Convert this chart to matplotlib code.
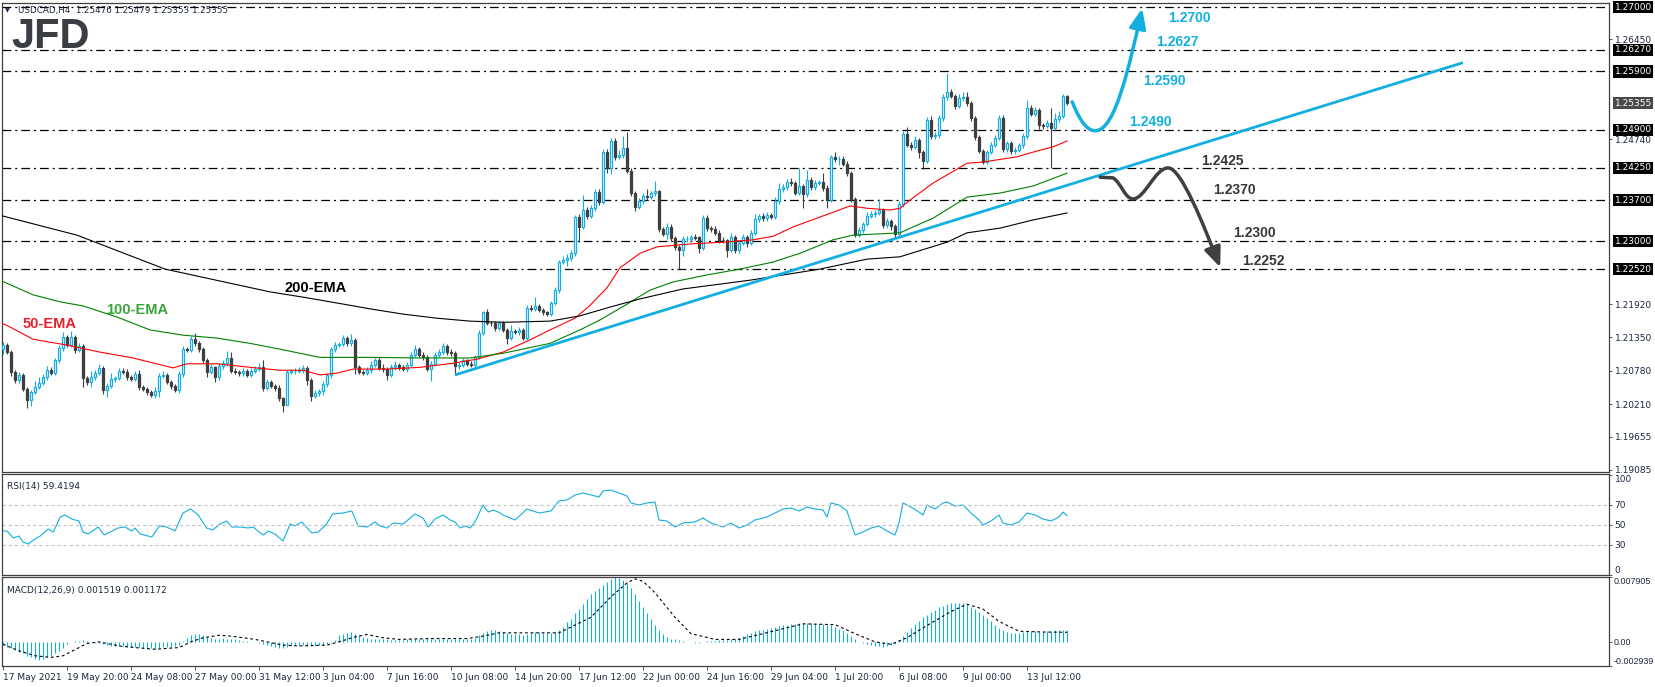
import numpy as np
import matplotlib
matplotlib.use('Agg')
import matplotlib.pyplot as plt
import matplotlib.transforms as mtransforms
from matplotlib.path import Path
from matplotlib.patches import FancyArrowPatch

# ---- price data (H4 bars, index 0 = 17 May 2021 00:00) ----
first_open = 1.2115
closes = [
    1.2122, 1.2110, 1.2076, 1.2062, 1.2071, 1.2047, 1.2028, 1.2042, 1.2050, 1.2057, 1.2067, 1.2079, 1.2074, 1.2096, 1.2117, 1.2136, 1.2122, 1.2136, 1.2114, 1.2120,
    1.2066, 1.2059, 1.2067, 1.2074, 1.2083, 1.2045, 1.2052, 1.2064, 1.2066, 1.2078, 1.2076, 1.2067, 1.2064, 1.2072, 1.2050, 1.2047, 1.2042, 1.2037, 1.2043, 1.2069,
    1.2071, 1.2059, 1.2052, 1.2045, 1.2072, 1.2115, 1.2114, 1.2132, 1.2125, 1.2115, 1.2096, 1.2076, 1.2084, 1.2067, 1.2086, 1.2091, 1.2100, 1.2078, 1.2076, 1.2074,
    1.2078, 1.2071, 1.2078, 1.2081, 1.2084, 1.2049, 1.2059, 1.2052, 1.2049, 1.2031, 1.2019, 1.2076, 1.2077, 1.2078, 1.2079, 1.2083, 1.2062, 1.2035, 1.2040, 1.2043,
    1.2055, 1.2071, 1.2115, 1.2122, 1.2124, 1.2134, 1.2125, 1.2131, 1.2084, 1.2076, 1.2075, 1.2079, 1.2088, 1.2096, 1.2083, 1.2081, 1.2071, 1.2084, 1.2088, 1.2084,
    1.2081, 1.2088, 1.2105, 1.2115, 1.2105, 1.2102, 1.2081, 1.2090, 1.2105, 1.2110, 1.2120, 1.2110, 1.2108, 1.2086, 1.2088, 1.2096, 1.2090, 1.2088, 1.2102, 1.2143,
    1.2178, 1.2160, 1.2159, 1.2151, 1.2160, 1.2148, 1.2134, 1.2146, 1.2145, 1.2148, 1.2134, 1.2185, 1.2184, 1.2189, 1.2182, 1.2178, 1.2175, 1.2194, 1.2216, 1.2264,
    1.2267, 1.2271, 1.2279, 1.2341, 1.2324, 1.2353, 1.2343, 1.2356, 1.2384, 1.2367, 1.2452, 1.2425, 1.2471, 1.2444, 1.2447, 1.2459, 1.2420, 1.2382, 1.2358, 1.2368,
    1.2377, 1.2375, 1.2382, 1.2385, 1.2320, 1.2312, 1.2324, 1.2305, 1.2290, 1.2285, 1.2303, 1.2304, 1.2307, 1.2306, 1.2288, 1.2339, 1.2322, 1.2320, 1.2314, 1.2302,
    1.2301, 1.2285, 1.2307, 1.2285, 1.2297, 1.2307, 1.2297, 1.2314, 1.2337, 1.2343, 1.2339, 1.2344, 1.2341, 1.2368, 1.2389, 1.2392, 1.2401, 1.2399, 1.2382, 1.2394,
    1.2380, 1.2404, 1.2392, 1.2399, 1.2401, 1.2391, 1.2370, 1.2444, 1.2440, 1.2441, 1.2432, 1.2416, 1.2372, 1.2310, 1.2319, 1.2329, 1.2343, 1.2346, 1.2348, 1.2353,
    1.2327, 1.2334, 1.2326, 1.2312, 1.2363, 1.2483, 1.2464, 1.2461, 1.2473, 1.2452, 1.2437, 1.2507, 1.2479, 1.2481, 1.2510, 1.2546, 1.2555, 1.2548, 1.2531, 1.2544,
    1.2546, 1.2536, 1.2510, 1.2478, 1.2454, 1.2435, 1.2452, 1.2464, 1.2476, 1.2510, 1.2457, 1.2467, 1.2454, 1.2456, 1.2464, 1.2479, 1.2527, 1.2517, 1.2524, 1.2498,
    1.2497, 1.2502, 1.2493, 1.2509, 1.2514, 1.2548, 1.25355,
]
# upper / lower shadows in pips
hi_wick = [
    5, 3, 4, 3, 5, 3, 3, 4, 10, 10, 6, 8, 6, 4, 5, 8, 4, 10, 4, 6,
    4, 3, 10, 5, 6, 3, 5, 10, 4, 5, 5, 5, 4, 5, 8, 3, 4, 3, 8, 5,
    6, 4, 3, 4, 5, 5, 4, 6, 11, 4, 3, 4, 6, 3, 5, 6, 12, 10, 4, 4,
    5, 3, 4, 5, 8, 12, 5, 4, 3, 4, 3, 3, 4, 4, 6, 5, 4, 3, 5, 4,
    5, 4, 3, 5, 4, 6, 4, 10, 3, 4, 3, 5, 6, 4, 5, 6, 3, 5, 6, 4,
    4, 5, 6, 8, 4, 5, 3, 4, 5, 5, 5, 4, 6, 4, 5, 4, 3, 4, 3, 5,
    3, 5, 4, 5, 4, 4, 3, 10, 4, 5, 3, 6, 5, 15, 4, 4, 3, 4, 5, 4,
    8, 6, 5, 3, 5, 25, 6, 5, 5, 5, 5, 6, 6, 5, 8, 20, 27, 4, 4, 6,
    5, 12, 4, 17, 3, 4, 6, 5, 3, 3, 5, 4, 4, 5, 3, 5, 6, 4, 5, 4,
    5, 3, 6, 3, 4, 5, 4, 5, 10, 4, 5, 5, 4, 8, 10, 5, 5, 6, 4, 30,
    4, 17, 5, 5, 4, 15, 4, 3, 8, 5, 4, 4, 3, 4, 5, 4, 6, 5, 5, 19,
    4, 5, 4, 3, 5, 5, 12, 5, 6, 4, 4, 5, 6, 5, 5, 5, 32, 5, 4, 8,
    8, 8, 4, 3, 4, 3, 4, 5, 5, 5, 5, 4, 4, 5, 4, 5, 14, 5, 5, 4,
    4, 5, 25, 10, 8, 3, 2,
]
lo_wick = [
    8, 4, 6, 4, 4, 4, 14, 10, 4, 3, 4, 4, 3, 3, 4, 5, 4, 3, 5, 4,
    15, 5, 8, 4, 3, 6, 12, 4, 5, 4, 3, 5, 4, 4, 5, 4, 5, 4, 6, 10,
    4, 4, 5, 4, 5, 4, 4, 4, 5, 4, 5, 8, 4, 8, 4, 5, 4, 4, 4, 5,
    4, 4, 3, 4, 4, 5, 4, 4, 5, 5, 12, 0, 4, 4, 4, 4, 8, 8, 4, 5,
    6, 4, 5, 4, 4, 4, 5, 5, 12, 4, 4, 4, 5, 3, 4, 5, 8, 4, 4, 5,
    4, 5, 4, 4, 4, 5, 4, 20, 4, 4, 4, 5, 4, 15, 5, 4, 4, 4, 4, 3,
    4, 4, 4, 5, 4, 4, 10, 4, 4, 5, 4, 4, 4, 4, 4, 5, 4, 4, 4, 5,
    4, 10, 5, 4, 25, 4, 5, 4, 4, 5, 4, 8, 10, 5, 4, 5, 4, 5, 6, 4,
    4, 5, 4, 5, 5, 4, 8, 5, 5, 33, 10, 4, 4, 5, 8, 4, 5, 4, 4, 5,
    4, 12, 4, 5, 5, 4, 8, 4, 4, 5, 4, 5, 4, 4, 4, 5, 4, 5, 4, 4,
    24, 4, 5, 4, 4, 5, 14, 3, 5, 10, 4, 4, 5, 4, 4, 5, 4, 4, 5, 4,
    5, 4, 8, 7, 3, 4, 4, 5, 4, 10, 14, 4, 5, 4, 4, 4, 5, 4, 5, 4,
    5, 5, 4, 5, 4, 3, 4, 4, 4, 4, 5, 4, 6, 5, 4, 5, 4, 4, 4, 6,
    5, 4, 68, 4, 5, 4, 3,
]

# moving averages read at sample bars
ema50_bar = [-0.75, 1.75, 7.5, 16, 24.25, 32.5, 42.5, 46, 53.5, 61.75, 69.25, 75, 79.25, 83.5, 87.5, 96, 104.25,
             112.5, 118.5, 125, 131.75, 136.75, 143, 146.75, 151, 154.25, 159.25, 163.5, 171.75, 180, 187.5,
             192.5, 197.5, 204.25, 207.5, 211.75, 216, 221.75, 224.25, 226.75, 232.5, 236.75, 241, 245,
             253.5, 257.5, 262.5, 266]
ema50_val = [1.2161, 1.2153, 1.2132, 1.2122, 1.2110, 1.2100, 1.2083, 1.2090, 1.2090, 1.2084, 1.2079, 1.2079,
             1.2071, 1.2074, 1.2081, 1.2081, 1.2084, 1.2091, 1.2098, 1.2110, 1.2131, 1.2148, 1.2168, 1.2190,
             1.2220, 1.2254, 1.2279, 1.2290, 1.2295, 1.2298, 1.2302, 1.2308, 1.2324, 1.2341, 1.2349, 1.2360,
             1.2356, 1.2353, 1.2356, 1.2370, 1.2399, 1.2416, 1.2433, 1.2435, 1.2444, 1.2452, 1.2461, 1.2471]
ema100_bar = [-0.75, 7.5, 14.25, 20, 28.5, 36.75, 45, 53.5, 61.75, 69.25, 79.25, 91.75, 104.25, 116.75, 125,
              136.75, 144.25, 149.25, 155.5, 161.75, 167.5, 176, 184.25, 192.5, 199.25, 207.5, 212.5, 224.25,
              228.5, 232.5, 241, 249.25, 257.5, 266]
ema100_val = [1.2233, 1.2208, 1.2196, 1.2189, 1.2170, 1.2148, 1.2139, 1.2134, 1.2125, 1.2115, 1.2101, 1.2101,
              1.2100, 1.2100, 1.2108, 1.2125, 1.2148, 1.2165, 1.2190, 1.2216, 1.2230, 1.2242, 1.2252, 1.2264,
              1.2279, 1.2302, 1.2310, 1.2314, 1.2327, 1.2339, 1.2375, 1.2382, 1.2394, 1.2416]
ema200_bar = [-0.75, 18.5, 40.5, 66.75, 75, 83.5, 91.75, 100, 108.5, 116.75, 125, 136.75, 144.25, 151.75,
              159.25, 170, 186.75, 204.25, 216, 224.25, 236, 241, 249.25, 257.5, 266]
ema200_val = [1.2344, 1.2310, 1.2252, 1.2213, 1.2204, 1.2194, 1.2184, 1.2175, 1.2168, 1.2163, 1.2161, 1.2163,
              1.2172, 1.2187, 1.2201, 1.2218, 1.2233, 1.2252, 1.2269, 1.2273, 1.2298, 1.2314, 1.2322, 1.2336,
              1.2348]

# support / resistance levels
levels = [1.2700, 1.2627, 1.2590, 1.2490, 1.2425, 1.2370, 1.2300, 1.2252]
level_tags = ['1.27000', '1.26270', '1.25900', '1.24900', '1.24250', '1.23700', '1.23000', '1.22520']
bull_tags = ['1.2700', '1.2627', '1.2590', '1.2490']
bear_tags = ['1.2425', '1.2370', '1.2300', '1.2252']
last_price = 1.25355
price_ticks = [1.26450, 1.24740, 1.21920, 1.21350, 1.20780, 1.20210, 1.19655, 1.19085]

trend_bar = [113, 365]
trend_val = [1.2071, 1.2605]

# RSI(14) read at sample bars
rsi_bar = [0, 1, 2.6, 4, 5, 6.3, 7.6, 9.3, 11.3, 12.6, 14.3, 15.5, 17.2, 19, 20, 21.3, 23.8, 25.3, 26.8, 28.8,
           30.5, 32.2, 33, 34.3, 37.2, 39.1, 40.9, 43, 45, 46.9, 48.8, 50.9, 52.4, 54.3, 55.9, 57.2, 59.3, 61.3,
           62.6, 63.4, 65.1, 66.3, 68, 70, 71.8, 73, 74.7, 77.2, 78.8, 80.9, 82.4, 85, 87.2, 88.8, 91, 93, 94.3,
           96, 97.6, 100, 103, 105, 106.3, 108, 110, 111.8, 113, 114.3, 115.5, 116.8, 118, 120, 121.3, 122.6,
           124.3, 125, 128, 131, 134, 137, 139, 141, 143, 145, 147, 149, 150, 152, 154, 156, 157, 159, 161, 163,
           164, 166, 168, 170, 173, 175, 177, 180, 182, 184, 186, 188, 191, 193, 195, 197, 199, 201, 203, 205,
           206, 207, 209, 211, 212, 213, 215, 217, 219, 221, 223, 224, 225, 227, 229, 230, 231, 233, 235, 236,
           238, 240, 242, 244, 245, 247, 249, 250, 252, 254, 256, 258, 260, 262, 264, 265, 266]
rsi_val = [44, 44, 37, 39, 33, 31, 35, 39, 46, 43, 58, 60, 56, 54, 43, 41, 48, 40, 43, 47,
           48, 44, 47, 41, 38, 49, 48, 44, 62, 66, 60, 47, 45, 51, 54, 48, 48, 47,
           48, 45, 40, 44, 41, 34, 51, 49, 53, 42, 43, 51, 61, 62, 64, 49, 48, 53, 49,
           47, 52, 51, 61, 57, 48, 56, 60, 55, 53, 47, 49, 47, 53, 70, 63, 65,
           62, 60, 55, 66, 62, 64, 74, 75, 80, 82, 80, 78, 84, 85, 82, 79, 72, 70, 72, 73,
           55, 54, 48, 52, 53, 57, 52, 48, 52, 47, 50, 55, 58, 62, 66, 67, 64, 68, 66, 65,
           58, 72, 70, 64, 52, 40, 43, 47, 49, 44, 40, 52, 72, 68, 63, 60, 70, 66, 72, 73,
           69, 70, 62, 55, 50, 54, 60, 52, 50, 53, 62, 60, 56, 54, 58, 63, 59.4]

# MACD(12,26,9) histogram, in units of 1e-4, one value per bar
macd_hist = [
    -4, -6, -8, -10, -12, -14, -17, -19, -21, -22, -21, -19, -17, -14, -11, -7,
    -3, 0, 1, 1, 2, 1, 0, -1, -1,
    -3, -4, -5, -5, -5, -5, -6, -6, -6, -6, -7, -7, -8, -9, -8, -6, -6, -6, -5, -4,
    1, 5, 8, 9, 9, 8,
    6, 5, 4, 4, 5, 4, 3, 3,
    2, 1, 1, 0, 0, -1,
    -3, -4, -5, -6, -7, -8,
    -6, -5, -4, -4, -4, -5, -5, -5, -4, -4, -3, -1, 2,
    8, 10, 11, 12, 10,
    8, 6, 5, 4, 4, 4, 3, 3, 2, 2, 2, 2, 3, 3, 4, 4, 4, 3, 3, 3, 4, 4, 4, 4, 3, 3, 3, 3, 4, 5,
    8, 11, 13, 14, 14, 13,
    12, 11, 10, 10, 9, 8, 10, 11, 12, 12, 11, 11, 11, 12,
    14, 18, 24, 28, 35, 40, 46, 52, 58, 62, 66, 70, 73, 77, 79, 78, 76, 72, 66, 58, 50, 42, 35, 28, 21, 15, 9,
    6, 4, 3, 2, 1, 0, 0, -1, -1, 0, 1, 1, 1, 2, 2, 2, 3, 4,
    5, 7, 9, 11, 13, 14, 15, 16, 17, 18, 19, 20, 21, 22, 22, 23, 23, 23, 23, 22, 22, 22, 21, 20, 18, 16, 14,
    11, 7, 3, 0, -2, -3, -4, -5, -5, -6, -5, -4, -3,
    2, 7, 12, 17, 22, 26, 30, 33, 36, 39, 42, 44, 46, 47, 48, 48, 47, 46, 43, 40, 36, 33,
    29, 25, 21, 17, 14, 12, 11, 11, 11, 12, 13, 13, 13, 12, 12, 13, 13, 14, 14, 15, 15,
]
signal_bar = [0, 4, 8, 12, 15, 19, 21, 24, 29, 33, 38, 44, 47, 50, 54, 57, 63, 66, 70, 74, 81, 84, 88, 91, 95,
              99, 107, 116, 120, 124, 131, 139, 147, 152, 156, 158, 160, 163, 168, 172, 178, 184, 190, 195,
              200, 208, 213, 218, 222, 226, 231, 237, 241, 245, 249, 254, 260, 266]
signal_val = [-3, -11, -17, -19, -17, -7, -2, 0, -5, -7, -9, -7, 0, 5, 8, 7, 3, 0, -4, -5, -4, 0, 6, 9, 5,
              3, 4, 4, 7, 11, 11, 11, 30, 55, 72, 77, 74, 60, 30, 10, 3, 3, 10, 16,
              22, 21, 10, 0, -3, 5, 20, 37, 46, 40, 25, 13, 12, 11.7]

date_ticks = ['17 May 2021', '19 May 20:00', '24 May 08:00', '27 May 00:00', '31 May 12:00', '3 Jun 04:00',
              '7 Jun 16:00', '10 Jun 08:00', '14 Jun 20:00', '17 Jun 12:00', '22 Jun 00:00', '24 Jun 16:00',
              '29 Jun 04:00', '1 Jul 20:00', '6 Jul 08:00', '9 Jul 00:00', '13 Jul 12:00']

CYAN = '#12afe0'
DARK = '#3f3f3f'
TXT = '#1c2740'
W, H = 1655, 687

fig = plt.figure(figsize=(W / 100, H / 100), dpi=100)


def box(l, t, r, b):
    return [l / W, 1 - b / H, (r - l) / W, (b - t) / H]


ax = fig.add_axes(box(2, 3, 1609, 472))
ax_rsi = fig.add_axes(box(2, 474, 1609, 575), sharex=ax)
ax_macd = fig.add_axes(box(2, 577, 1609, 666), sharex=ax)

for a in (ax, ax_rsi, ax_macd):
    for s in a.spines.values():
        s.set_color('#404040')
        s.set_linewidth(0.9)
    a.yaxis.tick_right()
    a.tick_params(axis='y', length=2.5, width=0.6, colors='#404040', labelsize=6.5, pad=1.5,
                  labelcolor=TXT)
    a.tick_params(axis='x', bottom=False, labelbottom=False)

# ---- candles ----
c = np.array(closes)
n = len(c)
x = np.arange(n)
o = np.concatenate([[first_open], c[:-1]])
hi = np.maximum(o, c) + np.array(hi_wick[:n]) * 1e-4
lo = np.minimum(o, c) - np.array(lo_wick[:n]) * 1e-4
up = c >= o
ax.vlines(x, lo, hi, colors=np.where(up, CYAN, DARK), linewidth=0.8, zorder=2)
body = np.maximum(np.abs(c - o), 0.00004)
ax.bar(x[up], body[up], bottom=np.minimum(o, c)[up], width=0.62, facecolor='white', edgecolor=CYAN,
       linewidth=0.9, zorder=3)
ax.bar(x[~up], body[~up], bottom=np.minimum(o, c)[~up], width=0.62, facecolor=DARK, edgecolor=DARK,
       linewidth=0.9, zorder=3)

ax.plot(ema50_bar, ema50_val, color='#ff0000', lw=0.8, zorder=4)
ax.plot(ema100_bar, ema100_val, color='#008000', lw=0.8, zorder=4)
ax.plot(ema200_bar, ema200_val, color='black', lw=0.8, zorder=4)

for lv in levels:
    ax.axhline(lv, color='black', lw=0.9, dashes=(7, 3.2, 1.6, 3.2), zorder=1)

ax.plot(trend_bar, trend_val, color=CYAN, lw=2.0, solid_capstyle='butt', zorder=5)

ax.set_xlim(-0.25, 401.5)
ax.set_ylim(1.1905, 1.2707)
ax.set_yticks(price_ticks)
ax.set_yticklabels(['%.5f' % v for v in price_ticks])

blend = mtransforms.blended_transform_factory(ax.transAxes, ax.transData)
for lv, tag in zip(levels, level_tags):
    ax.text(1.0035, lv, tag, transform=blend, ha='left', va='center', fontsize=6.5, color='white',
            bbox=dict(boxstyle='square,pad=0.18', fc='black', ec='none'), clip_on=False, zorder=10)
ax.text(1.0035, last_price, '%.5f' % last_price, transform=blend, ha='left', va='center', fontsize=6.5,
        color='white', bbox=dict(boxstyle='square,pad=0.18', fc='#4a4a4a', ec='none'), clip_on=False, zorder=10)

# EMA labels
lab_font = dict(family='Liberation Sans', fontweight='bold', fontsize=10.5, ha='center', va='center')
ax.text(78.25, 1.2220, '200-EMA', color='black', **lab_font)
ax.text(33.5, 1.2182, '100-EMA', color='#3aa53a', **lab_font)
ax.text(11.75, 1.2158, '50-EMA', color='#e8202a', **lab_font)

# scenario arrows
bull_path = Path([(267.3, 1.2538), (269.5, 1.2500), (271.5, 1.2486), (273.5, 1.2489),
                  (278.0, 1.2493), (281.5, 1.2595), (284.8, 1.2698)],
                 [Path.MOVETO, Path.CURVE4, Path.CURVE4, Path.CURVE4, Path.CURVE4, Path.CURVE4, Path.CURVE4])
ax.add_patch(FancyArrowPatch(path=bull_path, arrowstyle='-|>,head_length=1.2,head_width=0.5',
                             mutation_scale=10, color=CYAN, lw=2.5, zorder=6))
bear_path = Path([(274.3, 1.2409), (277.5, 1.2408),
                  (279.5, 1.2400), (280.5, 1.2372), (282.5, 1.2372),
                  (285.5, 1.2372), (288.0, 1.2425), (291.3, 1.2425),
                  (294.5, 1.2425), (300.0, 1.2330), (304.3, 1.2255)],
                 [Path.MOVETO, Path.LINETO] + [Path.CURVE4] * 9)
ax.add_patch(FancyArrowPatch(path=bear_path, arrowstyle='-|>,head_length=1.2,head_width=0.5',
                             mutation_scale=10, color='#404040', lw=2.5, zorder=6))

ann_font = dict(family='Liberation Sans', fontweight='bold', fontsize=10, ha='left', va='center')
for tag, bx, by in zip(bull_tags, [291.25, 288.25, 285.0, 281.5], [1.2681, 1.2640, 1.2573, 1.2503]):
    ax.text(bx, by, tag, color=CYAN, **ann_font)
for tag, bx, by in zip(bear_tags, [299.5, 302.5, 307.5, 309.75], [1.2437, 1.2387, 1.2314, 1.2266]):
    ax.text(bx, by, tag, color='#383838', **ann_font)

# ---- RSI ----
ax_rsi.plot(rsi_bar, rsi_val, color=CYAN, lw=0.8)
for lv in (30, 50, 70):
    ax_rsi.axhline(lv, color='#c4c4c4', lw=0.8, dashes=(3, 2.5))
ax_rsi.set_ylim(0, 101)
ax_rsi.set_yticks([0, 30, 50, 70, 100])
ax_rsi.set_yticklabels(['0', '30', '50', '70', '100'])
ax_rsi.get_yticklabels()[0].set_va('bottom')
ax_rsi.get_yticklabels()[-1].set_va('top')

# ---- MACD ----
hist = np.array(macd_hist) * 1e-4
ax_macd.vlines(np.arange(len(hist)), 0, hist, colors=CYAN, lw=0.8)
ax_macd.plot(signal_bar, np.array(signal_val) * 1e-4, color='black', lw=0.8, dashes=(2.5, 2.5))
ax_macd.set_ylim(-0.00295, 0.00792)
ax_macd.set_yticks([-0.002939, 0.0, 0.007905])
ax_macd.set_yticklabels(['-0.002939', '0.00', '0.007905'])
ax_macd.tick_params(axis='y', pad=1)
for lab in ax_macd.get_yticklabels():
    lab.set_fontfamily('Liberation Sans')
    lab.set_fontsize(6.4)
ax_macd.get_yticklabels()[0].set_va('bottom')
ax_macd.get_yticklabels()[-1].set_va('top')

ax_macd.tick_params(axis='x', bottom=True, labelbottom=True, length=3, width=0.6, colors='#404040',
                    labelsize=6.5, labelcolor=TXT, pad=2)
ax_macd.set_xticks(np.arange(len(date_ticks)) * 16)
ax_macd.set_xticklabels(date_ticks)
for lab in ax_macd.get_xticklabels():
    lab.set_ha('left')

# ---- header texts ----
fig.text(5 / W, 1 - 11 / H, '\u25bc', fontsize=4.5, color=TXT, va='center')
fig.text(18 / W, 1 - 11 / H, 'USDCAD,H4  1.25476 1.25479 1.25353 1.25355', fontsize=6.3, color=TXT,
         va='center')
fig.text(11 / W, 1 - 37 / H, 'JFD', family='Liberation Sans', fontweight='bold', fontsize=30,
         color='#3a3d42', va='center')
ax_rsi.text(0.003, 0.92, 'RSI(14) 59.4194', transform=ax_rsi.transAxes, fontsize=6.5, color=TXT,
            va='top')
ax_macd.text(0.003, 0.9, 'MACD(12,26,9) 0.001519 0.001172', transform=ax_macd.transAxes, fontsize=6.5,
             color=TXT, va='top')

fig.savefig('out.png', dpi=100, facecolor='white')
